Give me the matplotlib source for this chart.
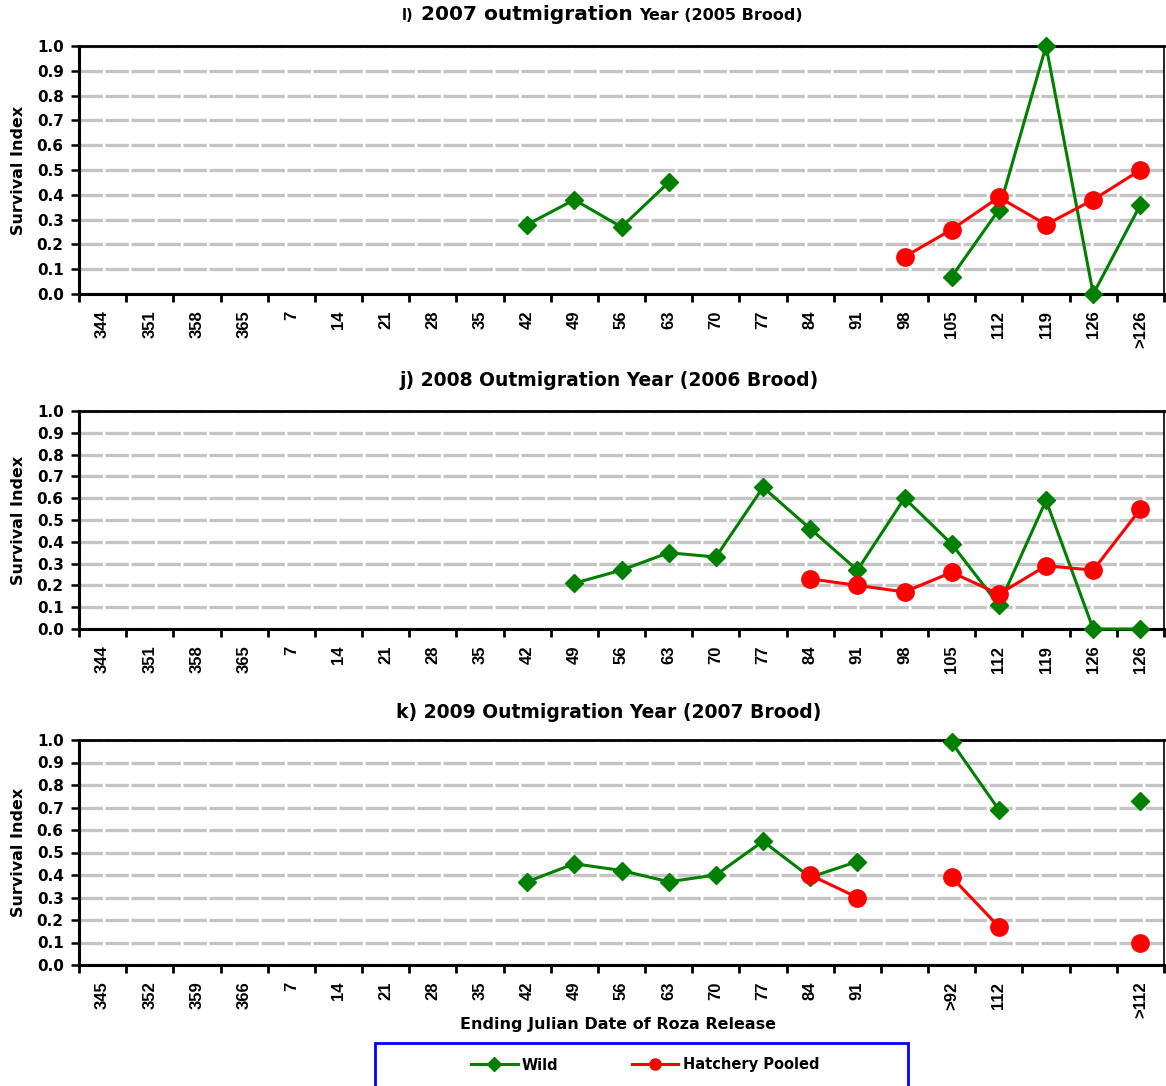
import numpy as np
import matplotlib
matplotlib.use("Agg")
import matplotlib.pyplot as plt
from matplotlib.lines import Line2D
from matplotlib.patches import Rectangle

plt.rcParams['font.family'] = ['DejaVu Sans']
plt.rcParams['font.weight'] = 'bold'

nan = np.nan

# Release-period categories (ending Julian date) for each outmigration year
dates_2007 = ["344", "351", "358", "365", "7", "14", "21", "28", "35", "42", "49", "56",
              "63", "70", "77", "84", "91", "98", "105", "112", "119", "126", ">126"]
dates_2008 = ["344", "351", "358", "365", "7", "14", "21", "28", "35", "42", "49", "56",
              "63", "70", "77", "84", "91", "98", "105", "112", "119", "126", "126"]
dates_2009 = ["345", "352", "359", "366", "7", "14", "21", "28", "35", "42", "49", "56",
              "63", "70", "77", "84", "91", "", ">92", "112", "", "", ">112"]

# Survival index values (nan = no release group)
wild_2007 = [nan, nan, nan, nan, nan, nan, nan, nan, nan, 0.28, 0.38, 0.27,
             0.45, nan, nan, nan, nan, nan, 0.07, 0.34, 1.00, 0.00, 0.36]
hatch_2007 = [nan, nan, nan, nan, nan, nan, nan, nan, nan, nan, nan, nan,
              nan, nan, nan, nan, nan, 0.15, 0.26, 0.39, 0.28, 0.38, 0.50]

wild_2008 = [nan, nan, nan, nan, nan, nan, nan, nan, nan, nan, 0.21, 0.27,
             0.35, 0.33, 0.65, 0.46, 0.27, 0.60, 0.39, 0.11, 0.59, 0.00, 0.00]
hatch_2008 = [nan, nan, nan, nan, nan, nan, nan, nan, nan, nan, nan, nan,
              nan, nan, nan, 0.23, 0.20, 0.17, 0.26, 0.16, 0.29, 0.27, 0.55]

wild_2009 = [nan, nan, nan, nan, nan, nan, nan, nan, nan, 0.37, 0.45, 0.42,
             0.37, 0.40, 0.55, 0.39, 0.46, nan, 0.99, 0.69, nan, nan, 0.73]
hatch_2009 = [nan, nan, nan, nan, nan, nan, nan, nan, nan, nan, nan, nan,
              nan, nan, nan, 0.40, 0.30, nan, 0.39, 0.17, nan, nan, 0.10]

GREEN = '#008000'
RED = '#ff0000'
NARROW = ['Liberation Sans', 'DejaVu Sans']

W, H = 1166, 1086
fig = plt.figure(figsize=(W / 100, H / 100), dpi=100)


def px_axes(left, top, right, bottom):
    return fig.add_axes([left / W, 1 - bottom / H, (right - left) / W, (bottom - top) / H])


panels = [
    (px_axes(79, 46, 1164, 294), dates_2007, wild_2007, hatch_2007),
    (px_axes(79, 411, 1164, 629), dates_2008, wild_2008, hatch_2008),
    (px_axes(79, 740, 1164, 965), dates_2009, wild_2009, hatch_2009),
]

for ax, cats, wild, hatch in panels:
    x = np.arange(len(cats))
    ax.plot(x, wild, color=GREEN, lw=2.2, marker='D', ms=8.8, mec=GREEN, mfc=GREEN,
            zorder=3, clip_on=False)
    ax.plot(x, hatch, color=RED, lw=2.2, marker='o', ms=12.5, mec=RED, mfc=RED,
            zorder=4, clip_on=False)
    ax.set_xlim(-0.5, len(cats) - 0.5)
    ax.set_ylim(0, 1.0)
    ax.set_yticks(np.arange(0, 1.01, 0.1))
    ax.set_yticklabels([f"{v:.1f}" for v in np.arange(0, 1.01, 0.1)])
    ax.set_xticks(x)
    ax.set_xticklabels(cats, rotation=90, va='top', ha='center',
                       family=NARROW, fontsize=12, fontweight='bold')
    ax.set_xticks(np.arange(-0.5, len(cats)), minor=True)
    ax.tick_params(axis='x', which='major', length=0, pad=12)
    ax.tick_params(axis='x', which='minor', length=6, width=2.0, direction='out', color='black')
    ax.tick_params(axis='y', which='major', length=6, width=1.8, direction='out', pad=5,
                   labelsize=11)
    ax.yaxis.grid(True, color='#c4c4c4', lw=2.4, ls=(0, (7, 0.8)))
    ax.set_axisbelow(True)
    for side, lw in (('left', 2.2), ('bottom', 2.2), ('top', 2.0), ('right', 1.2)):
        ax.spines[side].set_linewidth(lw)
        ax.spines[side].set_color('black')
    ax.set_ylabel("Survival Index", fontsize=11.5, fontweight='bold')
    ax.yaxis.set_label_coords(-0.049, 0.5)

# Panel titles
fig.canvas.draw()
renderer = fig.canvas.get_renderer()

parts = [("l)", 10.5), (" 2007 outmigration ", 14.5), ("Year (2005 Brood)", 11.5)]
texts = []
for s, fs in parts:
    texts.append(fig.text(0, 0, s, fontsize=fs, fontweight='bold', ha='left', va='baseline'))
widths = [t.get_window_extent(renderer).width for t in texts]
x0 = 402
for t, w in zip(texts, widths):
    t.set_position((x0 / W, 1 - 20 / H))
    x0 += w

fig.text(609 / W, 1 - 381 / H, "j) 2008 Outmigration Year (2006 Brood)",
         fontsize=13.5, fontweight='bold', ha='center', va='center')
fig.text(609 / W, 1 - 712 / H, "k) 2009 Outmigration Year (2007 Brood)",
         fontsize=13.5, fontweight='bold', ha='center', va='center')

fig.text(618 / W, 1 - 1025 / H, "Ending Julian Date of Roza Release",
         fontsize=11.5, fontweight='bold', ha='center', va='center')

# Legend with blue frame
fig.patches.append(Rectangle((375 / W, -0.02), (908 - 375) / W, (1 - 1043 / H) + 0.02,
                             transform=fig.transFigure, fill=False, edgecolor='#0000ff',
                             lw=2.0))
handles = [Line2D([], [], color=GREEN, lw=2.2, marker='D', ms=7, mfc=GREEN, mec=GREEN),
           Line2D([], [], color=RED, lw=2.2, marker='o', ms=8, mfc=RED, mec=RED)]
fig.legend(handles, ["Wild", "Hatchery Pooled"], loc='center', ncol=2, frameon=False,
           bbox_to_anchor=(645 / W, 1 - 1065 / H), handlelength=3.2,
           handletextpad=0.3, columnspacing=5.0, prop={'weight': 'bold', 'size': 10.5})

fig.savefig("out.png", dpi=100)
